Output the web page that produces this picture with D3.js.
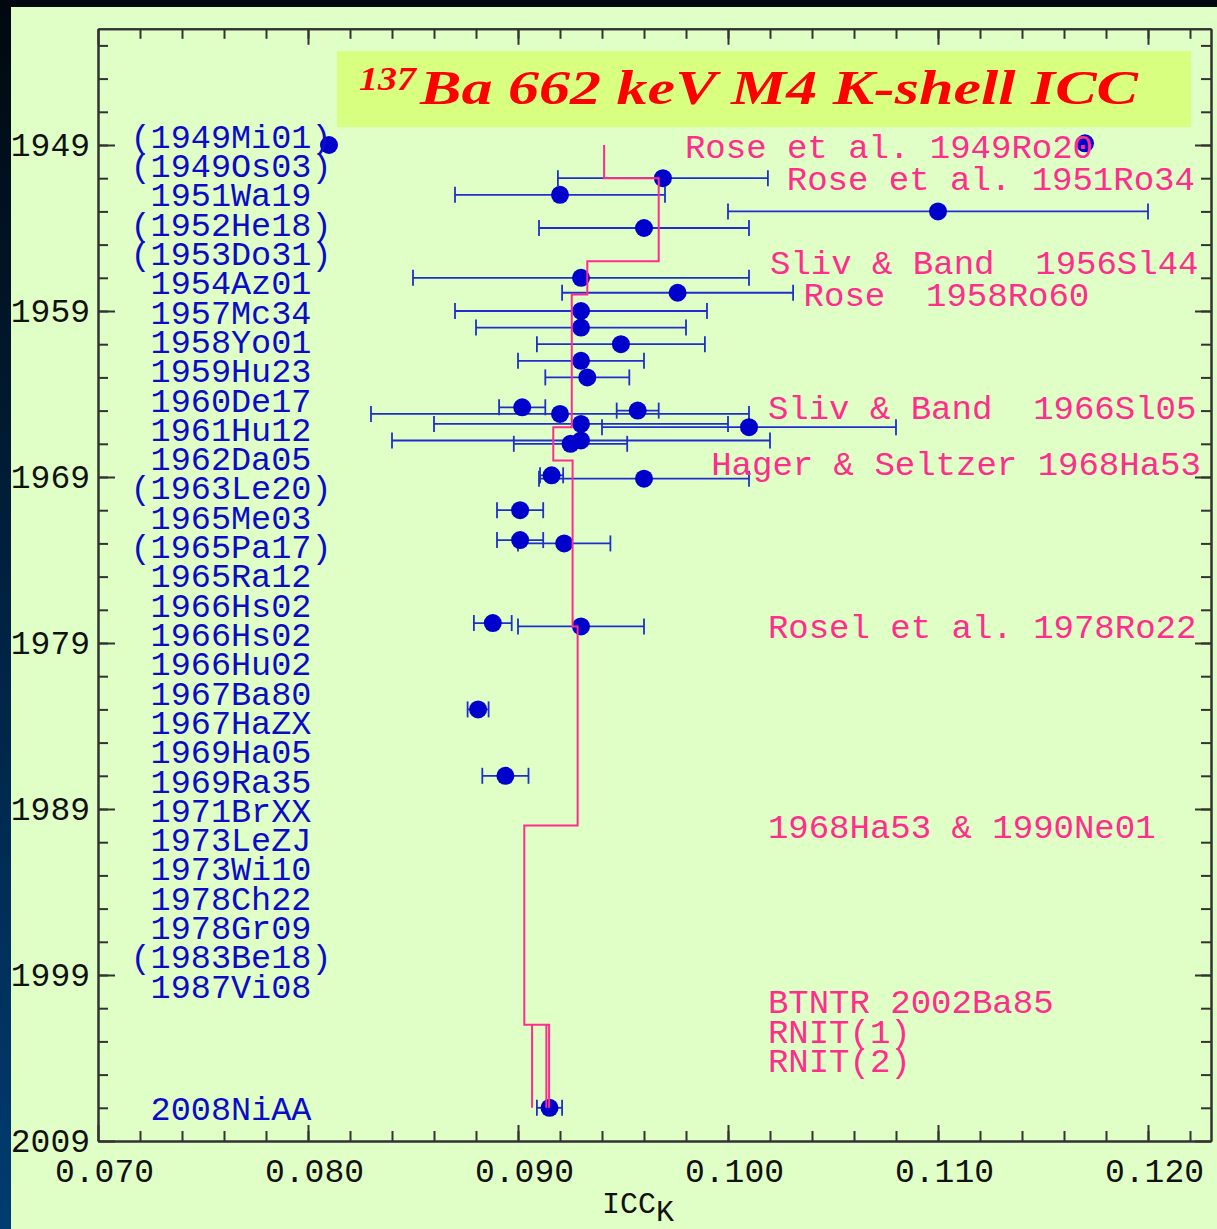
<!DOCTYPE html>
<html>
<head>
<meta charset="utf-8">
<script src="https://cdn.jsdelivr.net/npm/d3@7"></script>
<style>
  html, body { margin: 0; padding: 0; background: #001a33; }
  svg { display: block; }
  text { white-space: pre; }
</style>
</head>
<body>
<div id="chart"></div>
<script>
// reference keys listed down the left side (top to bottom)
var refLabels = ["(1949Mi01)", "(1949Os03)", "1951Wa19", "(1952He18)", "(1953Do31)",
  "1954Az01", "1957Mc34", "1958Yo01", "1959Hu23", "1960De17", "1961Hu12", "1962Da05",
  "(1963Le20)", "1965Me03", "(1965Pa17)", "1965Ra12", "1966Hs02", "1966Hs02", "1966Hu02",
  "1967Ba80", "1967HaZX", "1969Ha05", "1969Ra35", "1971BrXX", "1973LeZJ", "1973Wi10",
  "1978Ch22", "1978Gr09", "(1983Be18)", "1987Vi08"];
var lastLabel = "2008NiAA", lastLabelYear = 2007;

// measured ICC values: value, uncertainty, plotted year
var iccVal = [0.0810, 0.1170, 0.0969, 0.0920, 0.1100, 0.0960, 0.0930, 0.0976, 0.0930, 0.0930,
  0.0949, 0.0930, 0.0933, 0.0902, 0.0957, 0.0920, 0.0930, 0.1010, 0.0930, 0.0925,
  0.0916, 0.0960, 0.0901, 0.0901, 0.0922, 0.0888, 0.0930, 0.0881, 0.0894, 0.0915];
var iccErr = [0, 0, 0.0050, 0.0050, 0.0100, 0.0050, 0.0080, 0.0055, 0.0060, 0.0050,
  0.0040, 0.0030, 0.0020, 0.0011, 0.0010, 0.0090, 0.0070, 0.0070, 0.0090, 0.0027,
  0.00055, 0.0050, 0.0011, 0.0011, 0.0022, 0.0009, 0.0030, 0.0005, 0.0011, 0.0006];
var iccYear = [1949.0, 1948.9, 1951.0, 1952.0, 1953.0, 1954.0, 1957.0, 1957.9, 1959.0, 1960.0,
  1961.0, 1962.0, 1963.0, 1964.8, 1965.0, 1965.2, 1965.8, 1966.0, 1966.8, 1967.0,
  1968.9, 1969.1, 1971.0, 1972.8, 1973.0, 1977.8, 1978.0, 1983.0, 1987.0, 2007.0];

// theoretical values (step line): value, from year, to year
var theoName = ["1949Ro20", "1951Ro34", "1956Sl44", "1958Ro60", "1966Sl05", "1968Ha53",
  "1978Ro22", "1990Ne01", "2002Ba85"];
var theoVal = [0.0941, 0.0967, 0.0933, 0.09256, 0.09168, 0.0926, 0.09284, 0.0903, 0.09148];
var theoFrom = [1949, 1951, 1956, 1958, 1966, 1968, 1978, 1990, 2002];
var theoTo = [1951, 1956, 1958, 1966, 1968, 1978, 1990, 2002, 2007];
// separate RNIT values
var rnitVal = [0.09067, 0.09135];
var rnitFrom = 2002, rnitTo = 2007;

// annotation texts and anchors in data units
var noteText = ["Rose et al. 1949Ro20", "Rose et al. 1951Ro34", "Sliv & Band  1956Sl44",
  "Rose  1958Ro60", "Sliv & Band  1966Sl05", "Hager & Seltzer 1968Ha53",
  "Rosel et al. 1978Ro22", "1968Ha53 & 1990Ne01", "BTNTR 2002Ba85", "RNIT(1)", "RNIT(2)"];
var noteX = [0.09795, 0.1028, 0.1020, 0.1036, 0.1019, 0.0992, 0.1019, 0.1019, 0.1019, 0.1019, 0.1019];
var noteY = [1949.05, 1951.0, 1956.05, 1958.0, 1964.8, 1968.15, 1978.0, 1990.0, 2000.6, 2002.4, 2004.1];

// axis ticks
var xMajor = [0.070, 0.080, 0.090, 0.100, 0.110, 0.120];
var xMinor = d3.range(36, 62).map(function(i) { return i * 0.002; });
var yMajor = [1949, 1959, 1969, 1979, 1989, 1999, 2009];
var yMinor = d3.range(1943, 2009, 2);

var W = 1217, H = 1229;
var mono = "'Courier New', 'Liberation Mono', monospace";
var blue = "#0b0bc8", pink = "#ff2d8c";

var svg = d3.select("#chart").append("svg")
    .attr("width", W)
    .attr("height", H);

// dark gradient backdrop + light green panel
var grad = svg.append("defs").append("linearGradient")
    .attr("id", "bg").attr("x1", 0).attr("y1", 0).attr("x2", 0).attr("y2", 1);
grad.append("stop").attr("offset", "0%").attr("stop-color", "#010810");
grad.append("stop").attr("offset", "100%").attr("stop-color", "#003c72");
svg.append("rect").attr("width", W).attr("height", H).attr("fill", "url(#bg)");
svg.append("rect").attr("x", 11).attr("y", 7).attr("width", W - 11).attr("height", H - 7)
    .attr("fill", "#e0ffc6");

var x = d3.scaleLinear().domain([0.070, 0.123]).range([98, 1211]);
var y = d3.scaleLinear().domain([1942, 2009]).range([28.8, 1141]);

// title box
svg.append("rect").attr("x", 337).attr("y", 51).attr("width", 854).attr("height", 76)
    .attr("fill", "#d8ff80");
svg.append("text")
    .attr("x", 359).attr("y", 90)
    .attr("textLength", 57).attr("lengthAdjust", "spacingAndGlyphs")
    .style("font-family", "'Liberation Serif', serif")
    .style("font-style", "italic").style("font-weight", "bold")
    .style("font-size", "33px").attr("fill", "#ff0000")
    .text("137");
svg.append("text")
    .attr("x", 420).attr("y", 104)
    .attr("textLength", 718).attr("lengthAdjust", "spacingAndGlyphs")
    .style("font-family", "'Liberation Serif', serif")
    .style("font-style", "italic").style("font-weight", "bold")
    .style("font-size", "48px").attr("fill", "#ff0000")
    .text("Ba 662 keV M4 K-shell ICC");

// data points with horizontal error bars
var pts = iccVal.map(function(v, i) { return { v: v, e: iccErr[i], yr: iccYear[i] }; });
var eb = svg.append("g").attr("stroke", "#1f2fcc").attr("stroke-width", 1.8);
pts.filter(function(d) { return d.e > 0; }).forEach(function(d) {
    var yy = y(d.yr), x0 = x(d.v - d.e), x1 = x(d.v + d.e);
    eb.append("line").attr("x1", x0).attr("x2", x1).attr("y1", yy).attr("y2", yy);
    eb.append("line").attr("x1", x0).attr("x2", x0).attr("y1", yy - 8).attr("y2", yy + 8);
    eb.append("line").attr("x1", x1).attr("x2", x1).attr("y1", yy - 8).attr("y2", yy + 8);
});
svg.selectAll("circle.pt")
    .data(pts)
    .enter().append("circle")
    .attr("class", "pt")
    .attr("cx", function(d) { return x(d.v); })
    .attr("cy", function(d) { return y(d.yr); })
    .attr("r", 9)
    .attr("fill", "#0000cc");

// theory step line
var stepPts = [];
theoVal.forEach(function(v, i) {
    stepPts.push([v, theoFrom[i]]);
    stepPts.push([v, theoTo[i]]);
});
var line = d3.line()
    .x(function(d) { return x(d[0]); })
    .y(function(d) { return y(d[1]); });
svg.append("path").datum(stepPts)
    .attr("d", line)
    .attr("fill", "none").attr("stroke", pink).attr("stroke-width", 2);
rnitVal.forEach(function(v) {
    svg.append("path").datum([[v, rnitFrom], [v, rnitTo]])
        .attr("d", line)
        .attr("fill", "none").attr("stroke", pink).attr("stroke-width", 2);
});

// reference labels on the left
var rowY = d3.scalePoint().domain(d3.range(refLabels.length)).range([136, 986]);
svg.append("g").selectAll("text")
    .data(refLabels)
    .enter().append("text")
    .attr("x", 231)
    .attr("y", function(d, i) { return rowY(i); })
    .attr("dy", "0.35em")
    .style("text-anchor", "middle")
    .style("font-family", mono).style("font-size", "33.5px")
    .attr("fill", blue)
    .text(function(d) { return d; });
svg.append("text")
    .attr("x", 231).attr("y", y(lastLabelYear)).attr("dy", "0.35em")
    .style("text-anchor", "middle")
    .style("font-family", mono).style("font-size", "33.5px")
    .attr("fill", blue)
    .text(lastLabel);

// annotations for the theoretical values
svg.append("g").selectAll("text")
    .data(noteText)
    .enter().append("text")
    .attr("x", function(d, i) { return x(noteX[i]); })
    .attr("y", function(d, i) { return y(noteY[i]); })
    .attr("dy", "0.35em")
    .style("font-family", mono).style("font-size", "34px")
    .attr("fill", pink)
    .text(function(d) { return d; });

// axes (ticks pointing inwards on all four sides)
function styleAxis(g) {
    g.selectAll("path, line").attr("stroke", "#333").attr("stroke-width", 2);
    g.selectAll("text").attr("fill", "#111")
        .style("font-family", mono).style("font-size", "33px");
}
var noLab = function() { return ""; };

svg.append("g").attr("transform", "translate(98,0)")
    .call(d3.axisLeft(y).tickValues(yMinor).tickSizeInner(-10).tickSizeOuter(0).tickFormat(noLab))
    .call(styleAxis);
svg.append("g").attr("transform", "translate(98,0)")
    .call(d3.axisLeft(y).tickValues(yMajor).tickSizeInner(-17).tickSizeOuter(0).tickPadding(8)
        .tickFormat(d3.format("d")))
    .call(styleAxis);

svg.append("g").attr("transform", "translate(1211,0)")
    .call(d3.axisRight(y).tickValues(yMinor).tickSizeInner(-10).tickSizeOuter(0).tickFormat(noLab))
    .call(styleAxis);
svg.append("g").attr("transform", "translate(1211,0)")
    .call(d3.axisRight(y).tickValues(yMajor).tickSizeInner(-16).tickSizeOuter(0).tickFormat(noLab))
    .call(styleAxis);

svg.append("g").attr("transform", "translate(0,1141)")
    .call(d3.axisBottom(x).tickValues(xMinor).tickSizeInner(-10).tickSizeOuter(0).tickFormat(noLab))
    .call(styleAxis);
var xb = svg.append("g").attr("transform", "translate(0,1141)")
    .call(d3.axisBottom(x).tickValues(xMajor).tickSizeInner(-16).tickSizeOuter(0).tickPadding(18)
        .tickFormat(d3.format(".3f")))
    .call(styleAxis);
xb.selectAll("text").attr("dx", 6);

svg.append("g").attr("transform", "translate(0,28.8)")
    .call(d3.axisTop(x).tickValues(xMinor).tickSizeInner(-10).tickSizeOuter(0).tickFormat(noLab))
    .call(styleAxis);
svg.append("g").attr("transform", "translate(0,28.8)")
    .call(d3.axisTop(x).tickValues(xMajor).tickSizeInner(-16).tickSizeOuter(0).tickFormat(noLab))
    .call(styleAxis);

// x axis title with subscript K
var xt = svg.append("text")
    .attr("x", 602).attr("y", 1213)
    .style("font-family", mono).style("font-size", "30px")
    .attr("fill", "#111");
xt.append("tspan").text("ICC");
xt.append("tspan").attr("dy", 8).text("K");
</script>
</body>
</html>
